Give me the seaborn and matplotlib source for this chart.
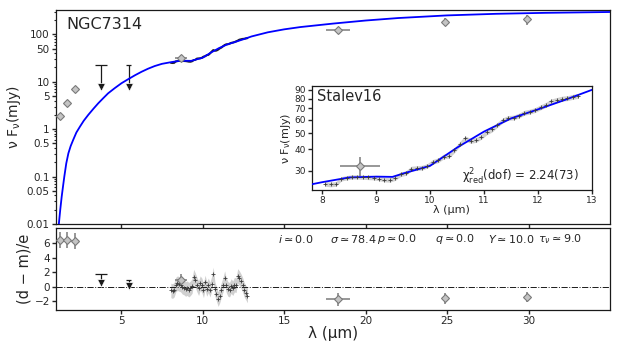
import numpy as np
import pandas as pd
import matplotlib
matplotlib.use('Agg')
import matplotlib.pyplot as plt
import seaborn as sns
from matplotlib.ticker import FixedLocator, FixedFormatter, NullFormatter, LogLocator

sns.set_theme(style='ticks', context='paper')
plt.rcParams['font.family'] = ['DejaVu Sans']
plt.rcParams['mathtext.fontset'] = 'dejavusans'

# model SED (blue curve)
model_wl = [1.16, 1.18, 1.26, 1.35, 1.43, 1.51, 1.63, 1.76, 1.9, 2.06, 2.25, 2.47, 2.7,
            2.98, 3.3, 3.59, 3.9, 4.2, 4.6, 5.02, 5.43, 5.85, 6.25, 6.65, 7.06, 7.5,
            8.0, 8.5, 9.0, 9.3, 9.5, 10.0, 10.5, 11.0, 11.5, 12.0, 12.5, 13.0, 14.0,
            15.0, 16.0, 18.0, 20.0, 22.0, 25.0, 28.0, 31.0, 35.0]
model_flux = [0.007, 0.0105, 0.02, 0.038, 0.062, 0.1, 0.19, 0.31, 0.44, 0.6, 0.85, 1.13, 1.5,
              2.0, 2.7, 3.5, 4.5, 5.7, 7.3, 9.3, 11.3, 13.7, 16.2, 18.8, 21.4, 23.8,
              25.6, 27.3, 27.6, 27.5, 28.8, 32.0, 41.0, 51.0, 61.0, 69.0, 78.5, 90.0, 110.0,
              127.0, 142.0, 168.0, 195.0, 220.0, 250.0, 270.0, 283.0, 295.0]

# Spitzer spectrum (Stalev16)
spec_wl = [8.05, 8.15, 8.25, 8.35, 8.45, 8.55, 8.65, 8.75, 8.85, 8.95, 9.05, 9.15,
           9.25, 9.35, 9.45, 9.55, 9.65, 9.75, 9.85, 9.95, 10.05, 10.15, 10.25, 10.35,
           10.45, 10.55, 10.65, 10.75, 10.85, 10.95, 11.05, 11.15, 11.25, 11.35, 11.45, 11.55,
           11.65, 11.75, 11.85, 11.95, 12.05, 12.15, 12.25, 12.35, 12.45, 12.55, 12.65, 12.75]
spec_flux = [25.0, 24.8, 25.0, 26.8, 27.2, 27.5, 27.5, 27.4, 27.3, 27.2, 26.9, 26.5,
             26.4, 27.0, 28.5, 29.0, 30.8, 31.0, 31.2, 32.0, 33.8, 34.5, 36.3, 36.8,
             39.5, 43.0, 46.5, 45.0, 45.5, 47.5, 50.5, 52.5, 56.0, 59.5, 61.5, 61.8,
             63.5, 66.0, 67.0, 68.5, 71.0, 73.5, 77.0, 78.5, 80.0, 80.5, 82.0, 83.0]
spec_err = [0.8, 0.8, 0.8, 0.8, 0.8, 0.8, 0.8, 0.8, 0.8, 0.8, 0.8, 0.8,
            0.8, 0.8, 0.9, 0.9, 1.0, 1.0, 1.0, 1.0, 1.1, 1.1, 1.2, 1.2,
            1.3, 1.5, 1.6, 1.5, 1.5, 1.6, 1.7, 1.8, 1.9, 2.0, 2.0, 2.0,
            2.1, 2.2, 2.2, 2.3, 2.4, 2.5, 2.6, 2.6, 2.7, 2.7, 2.8, 2.8]
spec_res = [-0.5, -0.6, -0.4, 0.3, 0.5, 0.4, 0.3, 0.0, -0.1, -0.3, -0.2, -0.4,
            -0.2, 0.1, 1.4, 0.9, 0.3, -0.2, 0.5, 0.2, -0.5, 0.6, -0.3, 0.2,
            -0.4, 0.4, 1.7, -0.3, -1.0, -1.7, -1.2, -0.4, 0.3, 1.2, 0.2, -0.3,
            -0.4, 0.1, -0.2, 0.3, 0.2, 1.5, 1.2, 0.8, 0.3, -0.4, -0.8, -1.2]

# photometry (grey diamonds)
phot_wl = [1.245, 1.65, 2.16, 8.7, 18.3, 24.9, 29.9]
phot_xerr = [0.0, 0.0, 0.0, 0.37, 0.75, 0.0, 0.0]
phot_flux = [1.9, 3.6, 6.9, 32.0, 123.0, 185.0, 210.0]
phot_ferr = [0.0, 0.0, 0.0, 4.0, 6.0, 35.0, 50.0]
phot_res = [6.4, 6.4, 6.3, 1.0, -1.75, -1.6, -1.4]
phot_rerr = [1.1, 1.1, 1.1, 0.8, 0.85, 0.8, 0.75]

# upper limits
ul_wl = [3.75, 5.47]
ul_half = [0.38, 0.15]
ul_top = [22.6, 22.6]
ul_tip = [7.9, 7.8]
ul_res_top = [1.8, 1.0]
ul_res_tip = [0.55, 0.05]

params = [r'$i \simeq 0.0$', r'$\sigma \simeq 78.4$', r'$p \simeq 0.0$',
          r'$q \simeq 0.0$', r'$Y \simeq 10.0$', r'$\tau_\nu \simeq 9.0$']

blue = '#0000ff'
dface = '#c4c4c4'
dedge = '#7a7a7a'
band = '#d0d0d0'
flux_label = 'ν F$_\\mathrm{ν}$(mJy)'
wl_label = 'λ (μm)'

model_df = pd.DataFrame({'wl': model_wl, 'flux': model_flux})
spec = pd.DataFrame({'wl': spec_wl, 'flux': spec_flux, 'err': spec_err, 'res': spec_res})

fig = plt.figure(figsize=(6.23, 3.46), dpi=100)
ax1 = fig.add_axes([0.0899, 0.3526, 0.8892, 0.6185])
ax2 = fig.add_axes([0.0899, 0.104, 0.8892, 0.237])
axin = fig.add_axes([0.5003, 0.4509, 0.4494, 0.3006])


def draw_diamonds(ax, y, yerr):
    ax.errorbar(phot_wl, y, xerr=phot_xerr, yerr=yerr, fmt='D', ms=4.2,
                mfc=dface, mec=dedge, mew=0.8, ecolor=dedge, elinewidth=1.1, zorder=4)


def draw_limits(ax, top, tip):
    ax.vlines(ul_wl, tip, top, color='k', lw=0.9)
    ax.errorbar(ul_wl, top, xerr=ul_half, fmt='none', ecolor='k', elinewidth=0.9)
    sns.scatterplot(x=ul_wl, y=tip, marker='v', color='k', s=30, ax=ax, zorder=5)


# ---- top panel
ax1.fill_between(spec.wl, spec.flux - spec.err, spec.flux + spec.err, color=band, lw=0)
ax1.plot(spec.wl, spec.flux, color='k', lw=1.4)
sns.lineplot(data=model_df, x='wl', y='flux', color=blue, lw=1.3, ax=ax1, zorder=3)
draw_diamonds(ax1, phot_flux, phot_ferr)
draw_limits(ax1, ul_top, ul_tip)
ax1.set_yscale('log')
ax1.set_xlim(1, 35)
ax1.set_ylim(0.01, 325)
ytk = [0.01, 0.05, 0.1, 0.5, 1, 5, 10, 50, 100]
ax1.yaxis.set_major_locator(FixedLocator(ytk))
ax1.yaxis.set_major_formatter(FixedFormatter(['0.01', '0.05', '0.1', '0.5', '1', '5', '10', '50', '100']))
ax1.yaxis.set_minor_locator(LogLocator(subs=np.arange(2, 10)))
ax1.yaxis.set_minor_formatter(NullFormatter())
ax1.set_xticks([5, 10, 15, 20, 25, 30])
ax1.tick_params(axis='x', labelbottom=False)
ax1.set_xlabel('')
ax1.set_ylabel(flux_label, fontsize=10, labelpad=3)
ax1.text(0.019, 0.965, 'NGC7314', transform=ax1.transAxes, fontsize=11.5, va='top')

# ---- inset
axin.fill_between(spec.wl, spec.flux - spec.err, spec.flux + spec.err, color=band, lw=0)
sns.scatterplot(data=spec, x='wl', y='flux', marker='+', color='#3a3a3a', s=10,
                linewidth=0.6, ax=axin, zorder=4)
sns.lineplot(data=model_df, x='wl', y='flux', color=blue, lw=1.3, ax=axin, zorder=3)
draw_diamonds(axin, phot_flux, phot_ferr)
axin.set_yscale('log')
axin.set_xlim(7.8, 13)
axin.set_ylim(23, 95)
axin.yaxis.set_major_locator(FixedLocator([30, 40, 50, 60, 70, 80, 90]))
axin.yaxis.set_major_formatter(FixedFormatter(['30', '40', '50', '60', '70', '80', '90']))
axin.yaxis.set_minor_locator(FixedLocator([]))
axin.set_xticks([8, 9, 10, 11, 12, 13])
axin.tick_params(labelsize=6.5, length=3, pad=1)
axin.set_xlabel(wl_label, fontsize=8, labelpad=0)
axin.set_ylabel(flux_label, fontsize=8, labelpad=1)
axin.text(0.02, 0.97, 'Stalev16', transform=axin.transAxes, fontsize=10.5, va='top')
axin.text(0.955, 0.13, 'χ$^2_\\mathrm{red}$(dof) = 2.24(73)', transform=axin.transAxes,
          fontsize=8.5, ha='right', va='center')

# ---- residuals
ax2.axhline(0, color='k', ls='-.', lw=0.7)
ax2.fill_between(spec.wl, spec.res - 1, spec.res + 1, color=band, lw=0)
sns.scatterplot(data=spec, x='wl', y='res', marker='+', color='#3a3a3a', s=10,
                linewidth=0.6, ax=ax2, zorder=4)
draw_diamonds(ax2, phot_res, phot_rerr)
draw_limits(ax2, ul_res_top, ul_res_tip)
ax2.set_xlim(1, 35)
ax2.set_ylim(-3.2, 8.1)
ax2.set_yticks([-2, 0, 2, 4, 6])
ax2.set_xticks([5, 10, 15, 20, 25, 30])
ax2.set_xlabel(wl_label, fontsize=11, labelpad=0)
ax2.set_ylabel('(d − m)/e', fontsize=10.5, labelpad=2)
for xp, s in zip([0.401, 0.495, 0.579, 0.684, 0.780, 0.870], params):
    ax2.text(xp, 0.87, s, transform=ax2.transAxes, fontsize=8, va='center')

for ax in (ax1, ax2, axin):
    for sp in ax.spines.values():
        sp.set_linewidth(0.9)
        sp.set_color('k')
for ax in (ax1, ax2):
    ax.tick_params(labelsize=7.5, length=3, pad=1.5)
    ax.tick_params(which='minor', length=1.5)

fig.savefig('out.png', dpi=100)
